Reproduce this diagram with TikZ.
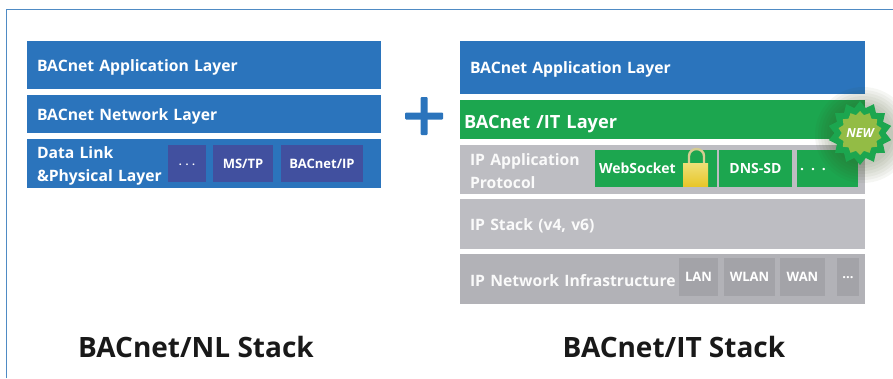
\documentclass[tikz,border=0pt]{standalone}
\usepackage{fontspec}
\setmainfont{Open Sans}
\usepackage{tikz}
\usetikzlibrary{calc,positioning,shapes.geometric}
\definecolor{frameblue}{HTML}{4F8BC4}
\definecolor{layerblue}{HTML}{2B74BC}
\definecolor{subpurple}{HTML}{41509F}
\definecolor{layergreen}{HTML}{1CA64F}
\definecolor{newgreen}{HTML}{93BC45}
\definecolor{layergray}{HTML}{BDBDC2}
\definecolor{darkgray}{HTML}{B2B2B7}
\definecolor{subgray}{HTML}{A3A3A8}
\definecolor{lockyellow}{HTML}{E6CE2E}
\tikzset{
  layer/.style={anchor=north west,inner ysep=0pt,inner xsep=10pt,outer sep=0pt,text width=#1pt-20pt,minimum width=#1pt,
    align=left,font=\bfseries\fontsize{15.7}{23}\selectfont,text=white,fill=layerblue,
    execute at begin node={\rule{0pt}{16pt}}},
  sublayer/.style={anchor=north west,inner sep=0pt,outer sep=0pt,minimum width=#1pt,align=center,
    font=\bfseries\fontsize{13}{15}\selectfont,text=white},
  stacktitle/.style={font=\fontsize{28}{32}\selectfont\bfseries,text=black!90}
}
\begin{document}
\begin{tikzpicture}[x=1pt,y=-1pt]
    \useasboundingbox (0,0) rectangle (893,378);
    \coordinate (fr1) at (6.5,378);
    \coordinate (fr2) at (6.5,9.5);
    \coordinate (fr3) at (893,9.5);
    \draw[frameblue,line width=1.2pt] (fr1) -- (fr2) -- (fr3);

    % left stack
    \node[layer=354,minimum height=48pt] (nlapp) at (27,41) {BACnet Application Layer};
    \node[layer=354,minimum height=38pt] (nlnet) at (27,95) {BACnet Network Layer};
    \node[layer=354,minimum height=49pt] (nllink) at (27,139) {Data Link\\\&Physical Layer};
    \node[sublayer=38,minimum height=37pt,fill=subpurple,font=\bfseries\fontsize{10.5}{13}\selectfont] (nldots) at (168,145) {\raisebox{-4pt}{. . .}};
    \node[sublayer=60,minimum height=37pt,fill=subpurple] (nlmstp) at (213,145) {MS/TP};
    \node[sublayer=82,minimum height=37pt,fill=subpurple] (nlip) at (281,145) {BACnet/IP};

    % plus sign
    \fill[layerblue,rounded corners=1pt] (405,112.5) rectangle (443,119.5);
    \fill[layerblue,rounded corners=1pt] (420.5,97) rectangle (427.5,135);

    % right stack
    \node[layer=405,minimum height=53pt] (itapp) at (460,41) {BACnet Application Layer};
    \node[layer=405,minimum height=39pt,fill=layergreen,inner xsep=4pt,text width=397pt,
      execute at begin node={\rule{0pt}{21.5pt}},
      font=\bfseries\fontsize{18.2}{22}\selectfont] (itlayer) at (460,100) {BACnet /IT Layer};
    \node[layer=405,minimum height=49pt,fill=layergray,text=white!92!layergray] (itproto) at (460,145) {IP Application\\Protocol};
    \node[sublayer=118,minimum height=37pt,fill=layergreen,text width=114pt,align=left,inner xsep=4pt,
      font=\bfseries\fontsize{14}{16}\selectfont] (itws) at (595,150) {WebSocket};
    \node[sublayer=73,minimum height=37pt,fill=layergreen,
      font=\bfseries\fontsize{14}{16}\selectfont] (itdns) at (719,150) {DNS-SD};
    \node[sublayer=61,minimum height=37pt,fill=layergreen,text width=55pt,align=left,inner xsep=3pt,
      font=\bfseries\fontsize{14}{14}\selectfont] (itdots) at (797,150) {\raisebox{-4pt}{. . .}};
    \node[layer=405,minimum height=50pt,fill=layergray,text=white!92!layergray] (itstack) at (460,199) {IP Stack (v4, v6)};
    \node[layer=405,minimum height=50pt,fill=darkgray,text=white!92!layergray] (itnet) at (460,254) {IP Network Infrastructure};
    \node[sublayer=39,minimum height=38pt,fill=subgray] (itlan) at (679,258) {LAN};
    \node[sublayer=51,minimum height=38pt,fill=subgray] (itwlan) at (724,258) {WLAN};
    \node[sublayer=45,minimum height=38pt,fill=subgray] (itwan) at (780,258) {WAN};
    \node[sublayer=22,minimum height=38pt,fill=subgray] (itmore) at (837,258) {\raisebox{-3pt}{...}};

    % lock
    \draw[black!25!lockyellow!50!white,line width=2.4pt] (689,165) -- (689,156) arc (180:360:7.5 and 7) -- (704,165);
    \shade[top color=lockyellow!65!white,bottom color=lockyellow!90!orange] (683,163) rectangle (708,186);

    % new badge
    \coordinate (badge) at (860,133);
    \foreach \r in {30,33,...,48}
      \fill[black!60!newgreen,opacity=0.05] ($(badge)+(3,2)$) circle (\r);
    \node[star,star points=14,star point ratio=1.25,minimum size=64pt,inner sep=0pt,
      fill=layergreen] (newburst) at (badge) {};
    \node[star,star points=14,star point ratio=1.2,minimum size=44pt,inner sep=0pt,
      fill=newgreen] (newinner) at (badge) {};
    \node[text=white,font=\bfseries\itshape\fontsize{12.5}{13}\selectfont] (newtext) at (badge) {NEW};

    % titles
    \node[stacktitle] (nltitle) at (196,347) {BACnet/NL Stack};
    \node[stacktitle] (ittitle) at (674,347) {BACnet/IT Stack};
\end{tikzpicture}
\end{document}
